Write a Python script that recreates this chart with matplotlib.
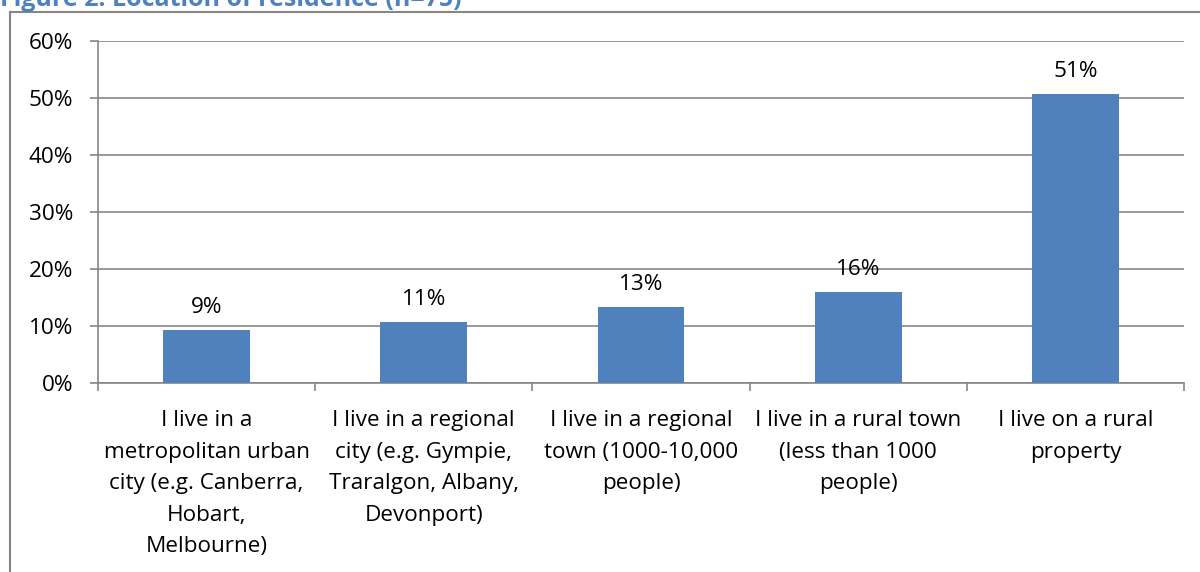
"""Bar chart of respondents' location of residence."""

import matplotlib.pyplot as plt
from matplotlib.lines import Line2D
from matplotlib.ticker import FixedLocator, MultipleLocator, PercentFormatter

plt.rcParams["font.family"] = ["Open Sans", "DejaVu Sans"]

categories = [
    "I live in a\nmetropolitan urban\ncity (e.g. Canberra,\nHobart,\nMelbourne)",
    "I live in a regional\ncity (e.g. Gympie,\nTraralgon, Albany,\nDevonport)",
    "I live in a regional\ntown (1000-10,000\npeople)",
    "I live in a rural town\n(less than 1000\npeople)",
    "I live on a rural\nproperty",
]
counts = [7, 8, 10, 12, 38]
n_total = 75
shares = [100 * c / n_total for c in counts]

BAR = "#4F81BD"
GREY = "#868686"
FS = 16.2

fig = plt.figure(figsize=(12, 5.72), dpi=100)
W, H = 1200, 572

# outer chart frame (runs off the right and bottom edges)
fig.add_artist(Line2D([10 / W, 10 / W], [0, 1 - 12 / H], color=GREY, lw=1.5))
fig.add_artist(Line2D([10 / W, 1], [1 - 12 / H, 1 - 12 / H], color=GREY, lw=1.5))

fig.text(0.0, 1 - 6 / H, "Figure 2: Location of residence (n=75)",
         color=BAR, fontsize=18, fontweight="bold", ha="left", va="baseline")

ax = fig.add_axes([98 / W, 189 / H, (1184 - 98) / W, (383 - 41) / H])

x = range(len(categories))
bars = ax.bar(x, shares, width=0.4, color=BAR, zorder=3)
for rect, val in zip(bars, shares):
    ax.annotate(f"{val:.0f}%", (rect.get_x() + rect.get_width() / 2, val),
                xytext=(0, 8.5), textcoords="offset points",
                ha="center", va="bottom", fontsize=FS)

ax.set_xlim(-0.5, len(categories) - 0.5)
ax.set_ylim(0, 60)
ax.yaxis.set_major_locator(MultipleLocator(10))
ax.yaxis.set_major_formatter(PercentFormatter(decimals=0))
ax.grid(axis="y", color=GREY, lw=1.2, zorder=0)

ax.set_xticks(list(x))
ax.set_xticklabels(categories, fontsize=FS, linespacing=1.66, va="top")
ax.xaxis.set_minor_locator(FixedLocator([i - 0.5 for i in range(len(categories) + 1)]))
ax.tick_params(axis="x", which="major", length=0, pad=19.5)
ax.tick_params(axis="x", which="minor", length=6, color=GREY, width=1.2)
ax.tick_params(axis="y", length=6, color=GREY, width=1.2, labelsize=FS, pad=12)

for side in ("top", "right"):
    ax.spines[side].set_visible(False)
for side in ("left", "bottom"):
    ax.spines[side].set_color(GREY)
    ax.spines[side].set_linewidth(1.2)

fig.savefig("out.png", dpi=100)
